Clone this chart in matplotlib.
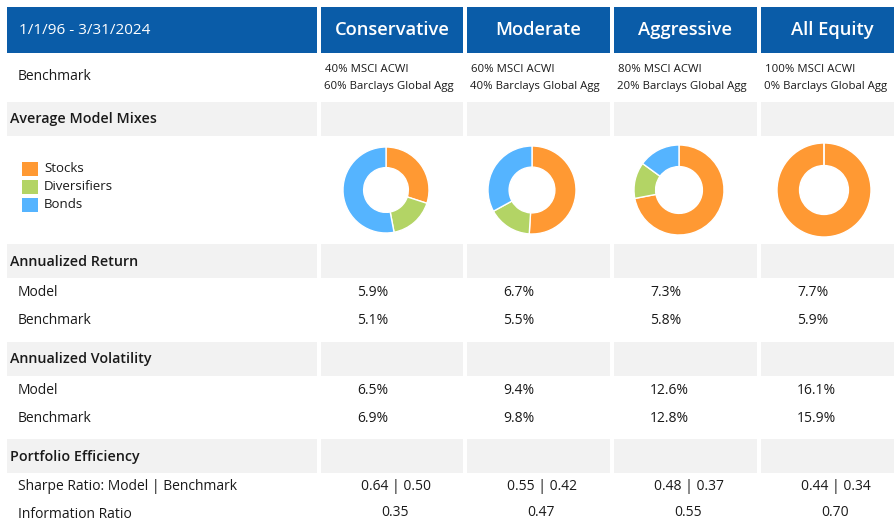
import matplotlib
matplotlib.use("Agg")
import matplotlib.pyplot as plt
from matplotlib.patches import Rectangle

plt.rcParams['font.family'] = ['Open Sans', 'DejaVu Sans']

# Table data
period = "1/1/96 - 3/31/2024"
models = ["Conservative", "Moderate", "Aggressive", "All Equity"]
bench_msci = [40, 60, 80, 100]
bench_agg = [60, 40, 20, 0]

mix_labels = ["Stocks", "Diversifiers", "Bonds"]
stocks = [30, 51, 72, 100]
diversifiers = [17, 16, 13, 0]
bonds = [53, 33, 15, 0]

ret_model = [5.9, 6.7, 7.3, 7.7]
ret_bench = [5.1, 5.5, 5.8, 5.9]
vol_model = [6.5, 9.4, 12.6, 16.1]
vol_bench = [6.9, 9.8, 12.8, 15.9]
sharpe_model = [0.64, 0.55, 0.48, 0.44]
sharpe_bench = [0.50, 0.42, 0.37, 0.34]
info_ratio = [0.35, 0.47, 0.55, 0.70]

# colours
BLUE = "#0a5ca8"
GREY = "#f2f2f2"
TXT = "#1a1a1a"
mix_colors = ["#ff9933", "#b3d465", "#55b4ff"]

W, H = 895, 525
fig = plt.figure(figsize=(W / 100, H / 100), dpi=100)
ax = fig.add_axes([0, 0, 1, 1])
ax.set_xlim(0, W)
ax.set_ylim(H, 0)
ax.axis("off")

lab_x0, lab_x1 = 7, 317
col_left = [321, 467, 614, 761]
col_w = [142, 143, 143, 150]


def band(y0, y1, color):
    ax.add_patch(Rectangle((lab_x0, y0), lab_x1 - lab_x0, y1 - y0, color=color, lw=0))
    for cl, cw in zip(col_left, col_w):
        ax.add_patch(Rectangle((cl, y0), cw, y1 - y0, color=color, lw=0))


# header
band(7, 53, BLUE)
ax.text(19, 30, period, color="white", fontsize=11, va="center")
for cl, m in zip(col_left, models):
    ax.text(cl + 71, 30, m, color="white", fontsize=13.2, fontweight="semibold",
            ha="center", va="center")

# benchmark row
ax.text(18, 77, "Benchmark", color=TXT, fontsize=10, va="center")
for cl, a, b in zip(col_left, bench_msci, bench_agg):
    ax.text(cl + 4, 70, f"{a}% MSCI ACWI", color=TXT, fontsize=8.2, va="center")
    ax.text(cl + 3, 87, f"{b}% Barclays Global Agg", color=TXT, fontsize=8.2, va="center")

# section bands
sections = [("Average Model Mixes", 102, 136),
            ("Annualized Return", 244, 278),
            ("Annualized Volatility", 342, 376),
            ("Portfolio Efficiency", 439, 473)]
for name, y0, y1 in sections:
    band(y0, y1, GREY)
    ax.text(10, (y0 + y1) / 2 + 0.5, name, color=TXT, fontsize=10.3, fontweight="semibold",
            va="center")

# legend
for i, (lab, c) in enumerate(zip(mix_labels, mix_colors)):
    yc = 168.5 + i * 18
    ax.add_patch(Rectangle((22, yc - 7), 16, 14, color=c, lw=0))
    ax.text(44, yc, lab, color=TXT, fontsize=9.5, va="center")

# donuts
pie_cx = [386, 532, 679, 824]
pie_r = [43, 44, 45, 47]
for i in range(4):
    r = pie_r[i]
    s = 2 * r * 1.25
    pax = fig.add_axes([(pie_cx[i] - s / 2) / W, 1 - (190 + s / 2) / H, s / W, s / H])
    vals = [stocks[i], diversifiers[i], bonds[i]]
    pax.pie(vals, colors=mix_colors, startangle=90, counterclock=False,
            wedgeprops=dict(width=0.48, edgecolor="white", linewidth=1))

# value rows
rows = [("Model", 292, [f"{v:.1f}%" for v in ret_model]),
        ("Benchmark", 320, [f"{v:.1f}%" for v in ret_bench]),
        ("Model", 390, [f"{v:.1f}%" for v in vol_model]),
        ("Benchmark", 418, [f"{v:.1f}%" for v in vol_bench])]
for lab, y, vals in rows:
    ax.text(18, y, lab, color=TXT, fontsize=10, va="center")
    for cl, v in zip(col_left, vals):
        ax.text(cl + 36, y, v, color=TXT, fontsize=10, va="center")

ax.text(18, 487, "Sharpe Ratio: Model | Benchmark", color=TXT, fontsize=10, va="center")
for cl, m, b in zip(col_left, sharpe_model, sharpe_bench):
    ax.text(cl + 75, 487, f"{m:.2f} | {b:.2f}", color=TXT, fontsize=10, ha="center", va="center")

ax.text(18, 515, "Information Ratio", color=TXT, fontsize=10, va="center")
for cl, v in zip(col_left, info_ratio):
    ax.text(cl + 74, 512, f"{v:.2f}", color=TXT, fontsize=10, ha="center", va="center")

fig.savefig("out.png", dpi=100)
